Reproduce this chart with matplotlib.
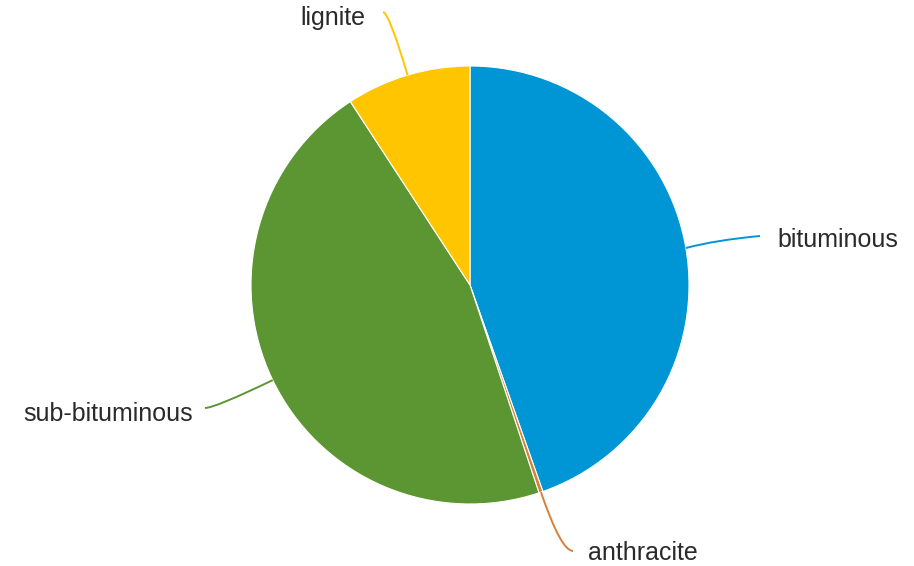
import numpy as np
import matplotlib.pyplot as plt
from matplotlib.path import Path
from matplotlib.patches import PathPatch

labels = ['bituminous', 'anthracite', 'sub-bituminous', 'lignite']
shares = [44.6, 0.3, 45.9, 9.2]
colors = ['#0096d6', '#d4813a', '#5b9632', '#ffc600']

W, H = 914, 566
fig = plt.figure(figsize=(W / 100, H / 100), dpi=100)
ax = fig.add_axes([0, 0, 1, 1])

cx, cy, r = 470, 566 - 285, 219
wedges, _ = ax.pie(shares, colors=colors, startangle=90, counterclock=False,
                   center=(cx, cy), radius=r, frame=True,
                   wedgeprops=dict(edgecolor='white', linewidth=0.8))
ax.set_xlim(0, W)
ax.set_ylim(0, H)
ax.set_aspect('equal')
ax.axis('off')

# leader line end, text position, alignment (pixel coords, y from top)
label_pos = {
    'bituminous': ((760, 236), (777, 240), 'left'),
    'anthracite': ((573, 551), (588, 553), 'left'),
    'sub-bituminous': ((205, 408), (193, 414), 'right'),
    'lignite': ((383, 12), (365, 18), 'right'),
}

for w, lab, col in zip(wedges, labels, colors):
    mid = np.deg2rad((w.theta1 + w.theta2) / 2)
    sx, sy = cx + r * np.cos(mid), cy + r * np.sin(mid)
    (ex, ey), (tx, ty), ha = label_pos[lab]
    ey, ty = H - ey, H - ty
    # control point: radial line meets the label's horizontal
    t = (ey - sy) / np.sin(mid) if abs(np.sin(mid)) > 1e-3 else 0
    c = (sx + t * np.cos(mid), ey)
    if lab == 'bituminous':
        c = (sx + 30, sy + 8)
    path = Path([(sx, sy), c, (ex, ey)], [Path.MOVETO, Path.CURVE3, Path.CURVE3])
    ax.add_patch(PathPatch(path, fill=False, edgecolor=col, linewidth=1.4))
    ax.text(tx, ty, lab, ha=ha, va='center', fontsize=18,
            family='Liberation Sans', color='#2a2a2a')

fig.savefig('out.png', dpi=100)
